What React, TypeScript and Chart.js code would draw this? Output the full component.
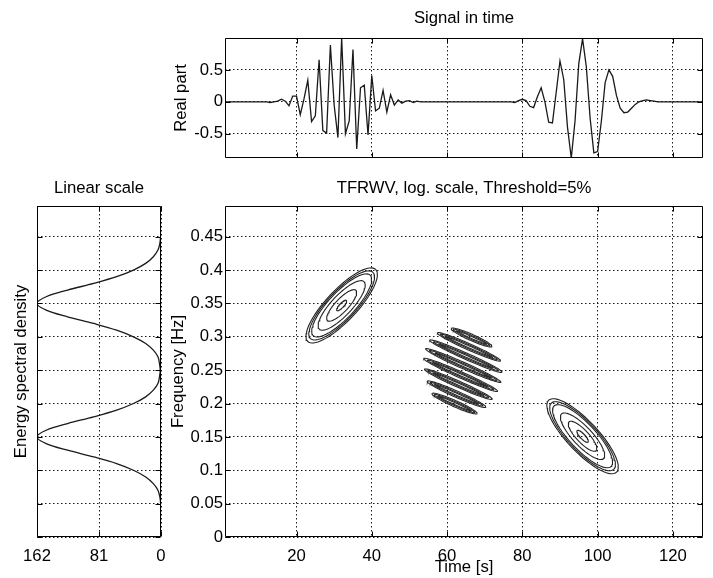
import React, { useEffect, useRef } from "react";
import { Chart, registerables } from "chart.js";

Chart.register(...registerables);

const FONT = '"Liberation Sans", Arial, Helvetica, sans-serif';

// ---------------- data ----------------
const timeTicks = [20, 40, 60, 80, 100, 120];
const signalTicks = [-0.5, 0, 0.5];
const freqTicks = [0, 0.05, 0.1, 0.15, 0.2, 0.25, 0.3, 0.35, 0.4, 0.45];
const esdTicks = [0, 81, 162];

// real part of the signal, samples t = 1..128
const signalReal = [
  0, 0, 0, 0, 0, 0, 0, 0, 0, 0,
  0, 0, -0.01, 0.0, 0.01, 0.04, 0.01, -0.06, 0.09, 0.09,
  -0.2, 0.05, 0.34, -0.31, -0.22, 0.66, -0.45, -0.49, 0.89, -0.05,
  -0.56, 1.0, -0.5, -0.3, 0.82, -0.74, 0.22, 0.26, -0.52, 0.41,
  -0.14, -0.1, 0.18, -0.16, 0.11, -0.05, 0.03, -0.02, 0.01, 0.02,
  -0.01, 0.01, 0, 0, 0, 0, 0, 0, 0, 0,
  0, 0, 0, 0, 0, 0, 0, 0, 0, 0,
  0, 0, 0, 0, 0, 0, 0, -0.01, 0.02, 0.04,
  0.02, -0.07, -0.09, 0.08, 0.22, 0.0, -0.32, -0.33, 0.15, 0.64,
  0.35, -0.4, -0.88, -0.3, 0.6, 0.99, 0.55, -0.25, -0.8, -0.78,
  -0.3, 0.3, 0.5, 0.4, 0.1, -0.1, -0.17, -0.16, -0.1, -0.04,
  0.0, 0.02, 0.03, 0.02, 0.01, 0, 0, 0, 0, 0,
  0, 0, 0, 0, 0, 0, 0, 0,
];

// energy spectral density (linear scale)
const esdFreq = [
  0, 0.01, 0.02, 0.03, 0.04, 0.05, 0.06, 0.07, 0.08, 0.09,
  0.1, 0.11, 0.12, 0.13, 0.14, 0.15, 0.16, 0.17, 0.18, 0.19,
  0.2, 0.21, 0.22, 0.23, 0.24, 0.25, 0.26, 0.27, 0.28, 0.29,
  0.3, 0.31, 0.32, 0.33, 0.34, 0.35, 0.36, 0.37, 0.38, 0.39,
  0.4, 0.41, 0.42, 0.43, 0.44, 0.45, 0.46, 0.47, 0.48, 0.49,
];
const esdValue = [
  0, 0, 0, 0, 0.2, 0.5, 1.5, 4, 10, 20,
  36, 58, 88, 122, 150, 162, 150, 122, 88, 58,
  36, 20, 10, 4, 2, 1, 2, 4, 10, 20,
  36, 58, 88, 122, 150, 162, 150, 122, 88, 58,
  36, 20, 10, 4, 1.5, 0.5, 0.2, 0, 0, 0,
];

// TFRWV contours: the two auto-terms (tilted ellipses)
const atomCenterT = [32, 96];
const atomCenterF = [0.347, 0.151];
const atomMajorT = [9.0, 9.0];
const atomMajorF = [0.054, -0.054];
const atomMinorT = [3.0, 3.0];
const atomMinorF = [-0.0158, 0.0158];
const atomLevels = [
  [1, 0.92, 0.84, 0.66, 0.42, 0.14],
  [1, 0.92, 0.84, 0.62, 0.4, 0.16],
];

// interference fringes (cross-term) around t = 64, f = 0.25
const fringeT = [66.5, 65.8, 65.0, 64.3, 63.6, 63.0, 62.5, 62.0];
const fringeF = [0.299, 0.285, 0.271, 0.257, 0.243, 0.229, 0.214, 0.2];
const fringeHalfLen = [5.4, 8.4, 9.6, 10.0, 9.8, 9.0, 7.8, 6.0];
const fringeSlope = -0.0025;
const fringeMinorT = 0.34;
const fringeMinorF = 0.0043;
const fringeLevels = [
  [1, 1],
  [0.9, 0.62],
  [0.75, 0.3],
];

// ---------------- helpers ----------------
function ellipse(cT: number, cF: number, aT: number, aF: number, bT: number, bF: number, sa: number, sb: number) {
  const n = 72;
  const pts: { x: number; y: number }[] = [];
  for (let i = 0; i <= n; i++) {
    const th = (i / n) * 2 * Math.PI;
    const c = Math.cos(th);
    const s = Math.sin(th);
    pts.push({ x: cT + sa * aT * c + sb * bT * s, y: cF + sa * aF * c + sb * bF * s });
  }
  return pts;
}

const framePlugin = {
  id: "frame",
  afterDatasetsDraw(chart: any) {
    const { ctx, chartArea: a } = chart;
    const L = Math.round(a.left) + 0.5;
    const T = Math.round(a.top) + 0.5;
    const R = Math.round(a.right) - 0.5;
    const B = Math.round(a.bottom) - 0.5;
    ctx.save();
    ctx.strokeStyle = "#000";
    ctx.lineWidth = 1;
    ctx.setLineDash([]);
    ctx.beginPath();
    ctx.rect(L, T, R - L, B - T);
    const xs = chart.scales.x;
    const ys = chart.scales.y;
    const tl = 5;
    xs.ticks.forEach((t: any) => {
      const p = Math.round(xs.getPixelForValue(t.value)) + 0.5;
      ctx.moveTo(p, B);
      ctx.lineTo(p, B - tl);
      ctx.moveTo(p, T);
      ctx.lineTo(p, T + tl);
    });
    ys.ticks.forEach((t: any) => {
      const p = Math.round(ys.getPixelForValue(t.value)) + 0.5;
      ctx.moveTo(L, p);
      ctx.lineTo(L + tl, p);
      ctx.moveTo(R, p);
      ctx.lineTo(R - tl, p);
    });
    ctx.stroke();
    ctx.restore();
  },
};

const FS = 16.7;
const tickFont = { family: FONT, size: FS, weight: "normal" as const, lineHeight: 1.2 };
const gridOpts = { color: "rgba(0,0,0,0.9)", lineWidth: 1, drawTicks: false };
const borderOpts = { display: false, dash: [1.5, 2.5] };
const fmt = (v: any) => {
  const n = Number(v);
  return String(Math.round(n * 100) / 100);
};
const setTicks = (vals: number[]) => (s: any) => {
  s.ticks = vals.map((v) => ({ value: v }));
};

export default function App() {
  const topRef = useRef<HTMLCanvasElement>(null);
  const leftRef = useRef<HTMLCanvasElement>(null);
  const mainRef = useRef<HTMLCanvasElement>(null);

  useEffect(() => {
    Chart.defaults.font.family = FONT;
    Chart.defaults.font.size = FS;
    Chart.defaults.color = "#000";

    const top = new Chart(topRef.current as HTMLCanvasElement, {
      type: "scatter",
      data: {
        datasets: [
          {
            data: signalReal.map((v, i) => ({ x: i + 1, y: v })),
            showLine: true,
            borderColor: "#1a1a1a",
            borderWidth: 1.3,
            pointRadius: 0,
            tension: 0,
          },
        ],
      },
      options: {
        animation: false,
        responsive: false,
        events: [],
        layout: { padding: { left: 165, right: 10, top: 0, bottom: 0 } },
        plugins: {
          legend: { display: false },
          tooltip: { enabled: false },
          title: {
            display: true,
            text: "Signal in time",
            fullSize: false,
            color: "#000",
            font: tickFont,
            padding: { top: 8.48, bottom: 9.48 },
          },
        },
        scales: {
          x: {
            type: "linear",
            min: 1,
            max: 128,
            afterBuildTicks: setTicks(timeTicks),
            ticks: { display: false },
            grid: gridOpts,
            border: borderOpts,
            afterFit: (s: any) => {
              s.height = 17;
              s.paddingLeft = 0;
              s.paddingRight = 0;
            },
          },
          y: {
            type: "linear",
            min: -0.88,
            max: 1,
            afterBuildTicks: setTicks(signalTicks),
            ticks: { padding: 2, color: "#000", font: tickFont, callback: fmt },
            grid: gridOpts,
            border: borderOpts,
            title: { display: true, text: "Real part", color: "#000", font: tickFont, padding: { top: 5.98, bottom: 0 } },
            afterFit: (s: any) => {
              s.width = 60;
              s.paddingTop = 0;
              s.paddingBottom = 0;
            },
          },
        },
      } as any,
      plugins: [framePlugin],
    });

    const left = new Chart(leftRef.current as HTMLCanvasElement, {
      type: "scatter",
      data: {
        datasets: [
          {
            data: esdValue.map((v, i) => ({ x: v, y: esdFreq[i] })),
            showLine: true,
            borderColor: "#1a1a1a",
            borderWidth: 1.3,
            pointRadius: 0,
            tension: 0.35,
          },
        ],
      },
      options: {
        animation: false,
        responsive: false,
        events: [],
        layout: { padding: { left: 0, right: 9, top: 0, bottom: 0 } },
        plugins: {
          legend: { display: false },
          tooltip: { enabled: false },
          title: {
            display: true,
            text: "Linear scale",
            fullSize: false,
            color: "#000",
            font: tickFont,
            padding: { top: 3.38, bottom: 7.58 },
          },
        },
        scales: {
          x: {
            type: "linear",
            reverse: true,
            min: 0,
            max: 162,
            afterBuildTicks: setTicks(esdTicks),
            ticks: { padding: 9, color: "#000", font: tickFont, callback: fmt },
            grid: gridOpts,
            border: borderOpts,
            afterFit: (s: any) => {
              s.height = 41;
              s.paddingLeft = 0;
              s.paddingRight = 0;
            },
          },
          y: {
            type: "linear",
            min: 0,
            max: 0.496,
            afterBuildTicks: setTicks(freqTicks),
            ticks: { display: false },
            grid: gridOpts,
            border: borderOpts,
            title: {
              display: true,
              text: "Energy spectral density",
              color: "#000",
              font: tickFont,
              padding: { top: 10.98, bottom: 0 },
            },
            afterFit: (s: any) => {
              s.width = 37;
              s.paddingTop = 0;
              s.paddingBottom = 0;
            },
          },
        },
      } as any,
      plugins: [framePlugin],
    });

    const contourSets: any[] = [];
    atomCenterT.forEach((cT, k) => {
      atomLevels[k].forEach((lv) => {
        contourSets.push({
          data: ellipse(cT, atomCenterF[k], atomMajorT[k], atomMajorF[k], atomMinorT[k], atomMinorF[k], lv, lv),
          showLine: true,
          borderColor: "#222",
          borderWidth: 1.1,
          pointRadius: 0,
          tension: 0,
        });
      });
    });
    fringeT.forEach((cT, k) => {
      fringeLevels.forEach(([sa, sb]) => {
        contourSets.push({
          data: ellipse(
            cT,
            fringeF[k],
            fringeHalfLen[k],
            fringeHalfLen[k] * fringeSlope,
            fringeMinorT,
            fringeMinorF,
            sa,
            sb
          ),
          showLine: true,
          borderColor: "#2a2a2a",
          borderWidth: 1.1,
          pointRadius: 0,
          tension: 0,
        });
      });
    });

    const main = new Chart(mainRef.current as HTMLCanvasElement, {
      type: "scatter",
      data: { datasets: contourSets },
      options: {
        animation: false,
        responsive: false,
        events: [],
        layout: { padding: { left: 0, right: 10, top: 0, bottom: 0 } },
        plugins: {
          legend: { display: false },
          tooltip: { enabled: false },
          title: {
            display: true,
            text: "TFRWV, log. scale, Threshold=5%",
            fullSize: false,
            color: "#000",
            font: tickFont,
            padding: { top: 3.38, bottom: 7.58 },
          },
        },
        scales: {
          x: {
            type: "linear",
            min: 1,
            max: 128,
            afterBuildTicks: setTicks(timeTicks),
            ticks: { padding: 9, color: "#000", font: tickFont, callback: fmt },
            grid: gridOpts,
            border: borderOpts,
            title: { display: true, text: "Time [s]", color: "#000", font: tickFont, padding: { top: 0, bottom: 0.4 } },
            afterFit: (s: any) => {
              s.height = 41;
              s.paddingLeft = 0;
              s.paddingRight = 0;
            },
          },
          y: {
            type: "linear",
            min: 0,
            max: 0.496,
            afterBuildTicks: setTicks(freqTicks),
            ticks: { padding: 2, color: "#000", font: tickFont, callback: fmt },
            grid: gridOpts,
            border: borderOpts,
            title: {
              display: true,
              text: "Frequency [Hz]",
              color: "#000",
              font: tickFont,
              padding: { top: 2.98, bottom: 0 },
            },
            afterFit: (s: any) => {
              s.width = 60;
              s.paddingTop = 0;
              s.paddingBottom = 0;
            },
          },
        },
      } as any,
      plugins: [framePlugin],
    });

    return () => {
      top.destroy();
      left.destroy();
      main.destroy();
    };
  }, []);

  const abs = (l: number, t: number): React.CSSProperties => ({ position: "absolute", left: l, top: t, display: "block" });

  return (
    <div style={{ position: "absolute", left: 0, top: 0, width: 713, height: 578, background: "#fff", overflow: "hidden" }}>
      <canvas ref={topRef} width={713} height={175} style={abs(0, 0)} />
      <canvas ref={leftRef} width={170} height={403} style={abs(0, 175)} />
      <canvas ref={mainRef} width={548} height={403} style={abs(165, 175)} />
    </div>
  );
}
